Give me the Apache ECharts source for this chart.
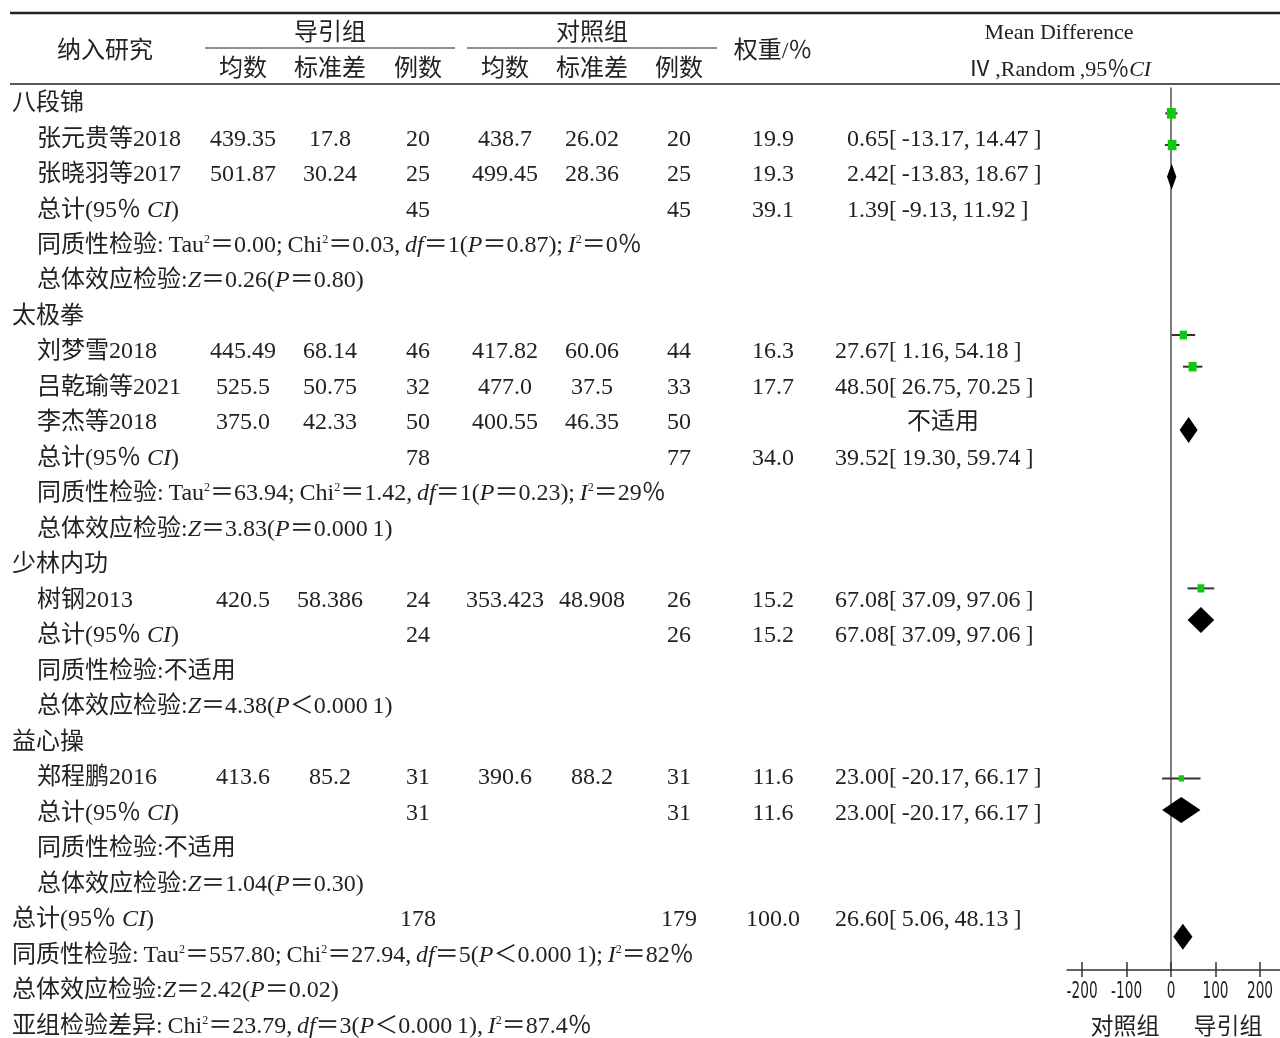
<!DOCTYPE html>
<html>
<head>
<meta charset="utf-8">
<script src="https://cdn.jsdelivr.net/npm/echarts@6/dist/echarts.min.js"></script>
<style>
html, body { margin: 0; padding: 0; background: #fff; }
#main { width: 1280px; height: 1038px; }
</style>
</head>
<body>
<div id="main"></div>
<script>
// 亚组、纳入研究
var groups = ['八段锦', '太极拳', '少林内功', '益心操'];
var studies = ['张元贵等2018', '张晓羽等2017', '刘梦雪2018', '吕乾瑜等2021', '李杰等2018', '树钢2013', '郑程鹏2016'];
var studyGroup = [0, 0, 1, 1, 1, 2, 3];

// 导引组 / 对照组
var expMean = ['439.35', '501.87', '445.49', '525.5', '375.0', '420.5', '413.6'];
var expSD = ['17.8', '30.24', '68.14', '50.75', '42.33', '58.386', '85.2'];
var expN = [20, 25, 46, 32, 50, 24, 31];
var ctlMean = ['438.7', '499.45', '417.82', '477.0', '400.55', '353.423', '390.6'];
var ctlSD = ['26.02', '28.36', '60.06', '37.5', '46.35', '48.908', '88.2'];
var ctlN = [20, 25, 44, 33, 50, 26, 31];

// 权重与 MD [95%CI]，null = 不适用
var studyWeight = [19.9, 19.3, 16.3, 17.7, null, 15.2, 11.6];
var studyMD = [0.65, 2.42, 27.67, 48.50, null, 67.08, 23.00];
var studyLo = [-13.17, -13.83, 1.16, 26.75, null, 37.09, -20.17];
var studyHi = [14.47, 18.67, 54.18, 70.25, null, 97.06, 66.17];
// 森林图里的行号（原图的行与表格不完全对齐）
var studyPlotRow = [0, 1, 7, 8, 9, 15, 21];

// 亚组合计
var groupExpN = [45, 78, 24, 31];
var groupCtlN = [45, 77, 26, 31];
var groupWeight = [39.1, 34.0, 15.2, 11.6];
var groupMD = [1.39, 39.52, 67.08, 23.00];
var groupLo = [-9.13, 19.30, 37.09, -20.17];
var groupHi = [11.92, 59.74, 97.06, 66.17];
var groupPlotRow = [2, 10, 16, 22];
var groupHet = [
    '同质性检验:\u2009Tau{s|2}＝0.00;\u2009Chi{s|2}＝0.03,\u2009{i|df}＝1({i|P}＝0.87);\u2009{i|I}{s|2}＝0％',
    '同质性检验:\u2009Tau{s|2}＝63.94;\u2009Chi{s|2}＝1.42,\u2009{i|df}＝1({i|P}＝0.23);\u2009{i|I}{s|2}＝29％',
    '同质性检验:不适用',
    '同质性检验:不适用'
];
var groupEffect = [
    '总体效应检验:{i|Z}＝0.26({i|P}＝0.80)',
    '总体效应检验:{i|Z}＝3.83({i|P}＝0.000\u20091)',
    '总体效应检验:{i|Z}＝4.38({i|P}＜0.000\u20091)',
    '总体效应检验:{i|Z}＝1.04({i|P}＝0.30)'
];

// 总计
var totalExpN = 178;
var totalCtlN = 179;
var totalWeight = 100.0;
var totalMD = 26.60;
var totalLo = 5.06;
var totalHi = 48.13;
var totalPlotRow = 26;
var totalHet = '同质性检验:\u2009Tau{s|2}＝557.80;\u2009Chi{s|2}＝27.94,\u2009{i|df}＝5({i|P}＜0.000\u20091);\u2009{i|I}{s|2}＝82％';
var totalEffect = '总体效应检验:{i|Z}＝2.42({i|P}＝0.02)';
var subgroupTest = '亚组检验差异:\u2009Chi{s|2}＝23.79,\u2009{i|df}＝3({i|P}＜0.000\u20091),\u2009{i|I}{s|2}＝87.4％';

var xTicks = [-200, -100, 0, 100, 200];
var sideLabels = ['对照组', '导引组'];

var SERIF = '"Liberation Serif", "Noto Sans CJK SC", serif';
var NARROW = '"DejaVu Sans Condensed", "Liberation Sans Narrow", sans-serif';
var INK = '#222';

// 表格各列位置
var COL = { lab0: 12, lab1: 37, em: 243, esd: 330, en: 418, cm: 505, csd: 592, cn: 679, w: 773, ci: 889, na: 943 };

var cells = [];
function addCell(col, row, text, align) {
    cells.push({ x: COL[col], row: row, text: String(text), align: align || 'center' });
}
function ciText(md, lo, hi, row) {
    addCell('ci', row, md.toFixed(2), 'right');
    addCell('ci', row, '[\u2009' + lo.toFixed(2) + ',\u2009' + hi.toFixed(2) + '\u2009]', 'left');
}

var studyData = [];
var diamondData = [];
var r = 0;
groups.forEach(function (g, gi) {
    addCell('lab0', r, g, 'left');
    r++;
    studies.forEach(function (s, si) {
        if (studyGroup[si] !== gi) return;
        addCell('lab1', r, s, 'left');
        addCell('em', r, expMean[si]);
        addCell('esd', r, expSD[si]);
        addCell('en', r, expN[si]);
        addCell('cm', r, ctlMean[si]);
        addCell('csd', r, ctlSD[si]);
        addCell('cn', r, ctlN[si]);
        if (studyMD[si] == null) {
            addCell('na', r, '不适用');
        } else {
            addCell('w', r, studyWeight[si].toFixed(1));
            ciText(studyMD[si], studyLo[si], studyHi[si], r);
            studyData.push([studyMD[si], studyPlotRow[si], studyLo[si], studyHi[si], studyWeight[si]]);
        }
        r++;
    });
    addCell('lab1', r, '总计(95％ {i|CI})', 'left');
    addCell('en', r, groupExpN[gi]);
    addCell('cn', r, groupCtlN[gi]);
    addCell('w', r, groupWeight[gi].toFixed(1));
    ciText(groupMD[gi], groupLo[gi], groupHi[gi], r);
    diamondData.push([groupMD[gi], groupPlotRow[gi], groupLo[gi], groupHi[gi]]);
    r++;
    addCell('lab1', r, groupHet[gi], 'left');
    r++;
    addCell('lab1', r, groupEffect[gi], 'left');
    r++;
});
addCell('lab0', r, '总计(95％ {i|CI})', 'left');
addCell('en', r, totalExpN);
addCell('cn', r, totalCtlN);
addCell('w', r, totalWeight.toFixed(1));
ciText(totalMD, totalLo, totalHi, r);
diamondData.push([totalMD, totalPlotRow, totalLo, totalHi]);
r++;
addCell('lab0', r++, totalHet, 'left');
addCell('lab0', r++, totalEffect, 'left');
addCell('lab0', r++, subgroupTest, 'left');

function textEl(x, y, text, align, size) {
    size = size || 24;
    return {
        type: 'text', x: x, y: y,
        style: {
            text: text, fill: INK, fontSize: size, fontFamily: SERIF,
            align: align, textAlign: align, verticalAlign: 'middle', textVerticalAlign: 'middle',
            rich: {
                i: { fontSize: size, fontFamily: SERIF, fontStyle: 'italic', fill: INK, color: INK },
                s: { fontSize: 12, fontFamily: SERIF, fill: INK, color: INK, verticalAlign: 'top' }
            }
        }
    };
}
function hLine(x1, x2, y, w) {
    return { type: 'line', shape: { x1: x1, y1: y, x2: x2, y2: y }, style: { stroke: INK, lineWidth: w } };
}

var myChart = echarts.init(document.getElementById('main'));

var option = {
    animation: false,
    backgroundColor: '#fff',
    grid: [
        { left: 0, top: 86, width: 1280, height: 955 },
        { left: 1067, top: 88, width: 213, height: 882 }
    ],
    xAxis: [
        { gridIndex: 0, type: 'value', min: 0, max: 1280, show: false },
        {
            gridIndex: 1, type: 'value', min: -234, max: 245, position: 'bottom',
            axisLine: { onZero: false, lineStyle: { color: '#333', width: 1.5 } },
            axisTick: { customValues: xTicks, length: 7, lineStyle: { color: '#333', width: 1.5 } },
            axisLabel: { show: false },
            splitLine: { show: false }
        },
        {
            gridIndex: 1, type: 'value', min: -234, max: 245, position: 'bottom',
            axisLine: { show: false, onZero: false },
            axisTick: { customValues: xTicks, inside: true, length: 8, lineStyle: { color: '#333', width: 1.5 } },
            axisLabel: { show: false },
            splitLine: { show: false }
        }
    ],
    yAxis: [
        { gridIndex: 0, type: 'value', inverse: true, min: -0.5, max: 26.326, show: false },
        {
            gridIndex: 1, type: 'value', inverse: true, min: -0.8, max: 27.05,
            axisLine: { show: true, onZero: true, onZeroAxisIndex: 1, lineStyle: { color: '#555', width: 1.5 } },
            axisTick: { show: false }, axisLabel: { show: false }, splitLine: { show: false }
        }
    ],
    graphic: [
        hLine(10, 1280, 13, 2.5),
        hLine(10, 1280, 84, 1.5),
        hLine(205, 455, 48, 1.2),
        hLine(467, 717, 48, 1.2),
        textEl(105, 52, '纳入研究', 'center'),
        textEl(330, 34, '导引组', 'center'),
        textEl(243, 70, '均数', 'center'),
        textEl(330, 70, '标准差', 'center'),
        textEl(418, 70, '例数', 'center'),
        textEl(592, 34, '对照组', 'center'),
        textEl(505, 70, '均数', 'center'),
        textEl(592, 70, '标准差', 'center'),
        textEl(679, 70, '例数', 'center'),
        textEl(773, 52, '权重/％', 'center'),
        textEl(1059, 33, 'Mean Difference', 'center', 22),
        textEl(1060, 70, 'Ⅳ\u2009,Random\u2009,95％{i|CI}', 'center', 22),
        textEl(1125, 1028, sideLabels[0], 'center', 23),
        textEl(1228, 1028, sideLabels[1], 'center', 23)
    ],
    series: [
        {
            type: 'custom',
            xAxisIndex: 0, yAxisIndex: 0,
            data: cells.map(function (c) { return [c.x, c.row]; }),
            renderItem: function (params, api) {
                var c = cells[params.dataIndex];
                var p = api.coord([api.value(0), api.value(1)]);
                return textEl(p[0], p[1], c.text, c.align);
            }
        },
        {
            type: 'custom',
            xAxisIndex: 1, yAxisIndex: 1,
            data: studyData,
            encode: { x: 0, y: 1 },
            renderItem: function (params, api) {
                var c = api.coord([api.value(0), api.value(1)]);
                var lo = api.coord([api.value(2), api.value(1)]);
                var hi = api.coord([api.value(3), api.value(1)]);
                var s = api.value(4) * 0.45;
                return {
                    type: 'group',
                    children: [
                        { type: 'line', shape: { x1: lo[0], y1: c[1], x2: hi[0], y2: c[1] }, style: { stroke: '#333', lineWidth: 2 } },
                        { type: 'rect', shape: { x: c[0] - s / 2, y: c[1] - s * 0.6, width: s, height: s * 1.2 }, style: { fill: '#10c810' } }
                    ]
                };
            }
        },
        {
            type: 'custom',
            xAxisIndex: 1, yAxisIndex: 1,
            data: diamondData,
            encode: { x: 0, y: 1 },
            renderItem: function (params, api) {
                var c = api.coord([api.value(0), api.value(1)]);
                var lo = api.coord([api.value(2), api.value(1)]);
                var hi = api.coord([api.value(3), api.value(1)]);
                return {
                    type: 'polygon',
                    shape: { points: [[lo[0], c[1]], [c[0], c[1] - 13], [hi[0], c[1]], [c[0], c[1] + 13]] },
                    style: { fill: '#000' }
                };
            }
        },
        {
            // 刻度标签（窄体字，横向压缩）
            type: 'custom',
            xAxisIndex: 1, yAxisIndex: 1,
            data: xTicks.map(function (t) { return [t, 27.05]; }),
            encode: { x: 0, y: 1 },
            silent: true,
            renderItem: function (params, api) {
                var p = api.coord([api.value(0), api.value(1)]);
                return {
                    type: 'text', x: p[0], y: p[1] + 22, scaleX: 0.66,
                    style: {
                        text: String(api.value(0)), fill: INK, fontSize: 23, fontFamily: NARROW,
                        align: 'center', textAlign: 'center', verticalAlign: 'middle', textVerticalAlign: 'middle'
                    }
                };
            }
        }
    ]
};

myChart.setOption(option);
</script>
</body>
</html>
